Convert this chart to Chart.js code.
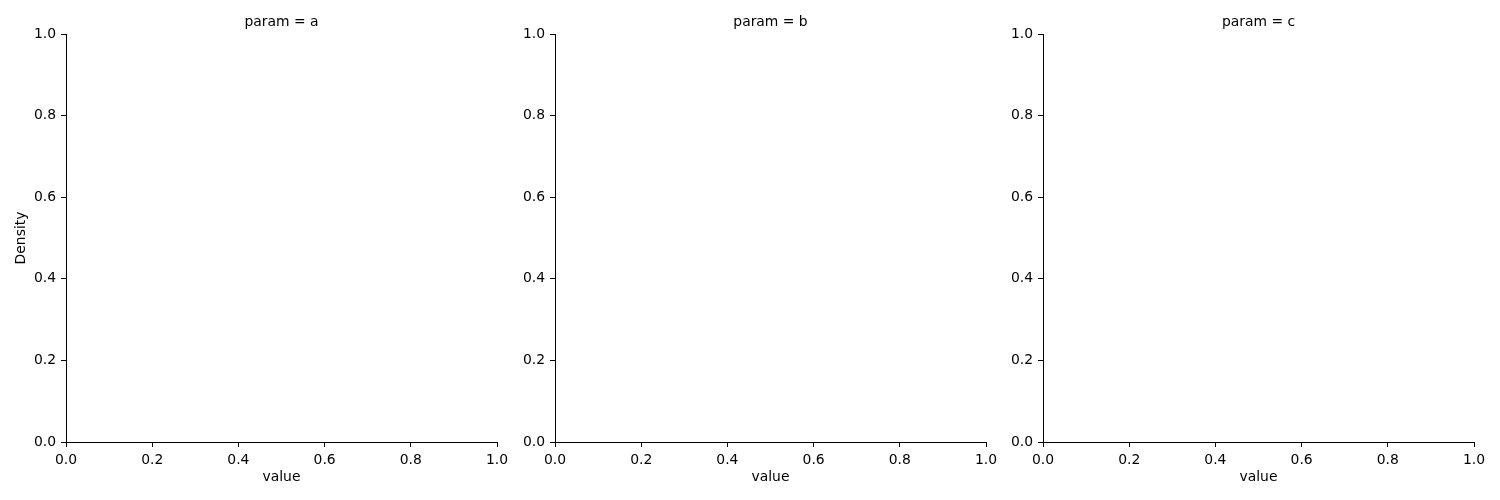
<!DOCTYPE html>
<html>
<head>
<meta charset="utf-8">
<script src="https://cdn.jsdelivr.net/npm/chart.js@4/dist/chart.umd.min.js"></script>
<style>
	html, body { margin: 0; padding: 0; background: #fff; }
	#wrap { position: relative; width: 1500px; height: 500px; }
	#wrap canvas { position: absolute; top: 0; }
</style>
</head>
<body>
<div id="wrap">
	<canvas id="panel0" width="520" height="500" style="left:0px"></canvas>
	<canvas id="panel1" width="520" height="500" style="left:489px"></canvas>
	<canvas id="panel2" width="520" height="500" style="left:977px"></canvas>
</div>
<script>
// facet categories and (empty) series values, one per facet
const params = ['a', 'b', 'c'];
const valuesA = [];
const valuesB = [];
const valuesC = [];
const xTicks = [0, 0.2, 0.4, 0.6, 0.8, 1.0];
const yTicks = [0, 0.2, 0.4, 0.6, 0.8, 1.0];

Chart.defaults.font.family = "'DejaVu Sans', sans-serif";
Chart.defaults.font.size = 13.9;
Chart.defaults.color = '#000';

// facet title centred over the plot area (the built-in title centres over the whole canvas)
const facetTitle = {
	id: 'facetTitle',
	afterDraw(chart, args, opts) {
		const { ctx, chartArea } = chart;
		ctx.save();
		ctx.font = "13.9px 'DejaVu Sans', sans-serif";
		ctx.fillStyle = '#000';
		ctx.textAlign = 'center';
		ctx.textBaseline = 'alphabetic';
		ctx.fillText(opts.text, (chartArea.left + chartArea.right) / 2, chartArea.top - 8.3);
		ctx.restore();
	}
};

function makePanel(canvasId, param, values, showYTitle) {
	new Chart(document.getElementById(canvasId).getContext('2d'), {
		type: 'scatter',
		data: {
			datasets: [{
				label: 'param = ' + param,
				data: values,
				borderColor: '#1f77b4',
				backgroundColor: '#1f77b4'
			}]
		},
		plugins: [facetTitle],
		options: {
			responsive: false,
			animation: false,
			devicePixelRatio: 1,
			layout: { padding: { left: 0, right: 23, top: 34, bottom: 0 } },
			plugins: {
				legend: { display: false },
				tooltip: { enabled: false },
				title: { display: false },
				facetTitle: { text: 'param = ' + param }
			},
			scales: {
				x: {
					type: 'linear',
					min: 0,
					max: 1,
					afterBuildTicks: s => { s.ticks = xTicks.map(v => ({ value: v })); },
					afterFit: s => { s.height = 58; },
					ticks: {
						padding: 5,
						maxRotation: 0,
						autoSkip: false,
						callback: v => v.toFixed(1)
					},
					grid: { drawOnChartArea: false, drawTicks: true, tickLength: 5, color: '#000', lineWidth: 1 },
					border: { display: true, color: '#000', width: 1 },
					title: { display: true, text: 'value', padding: { top: 4, bottom: 14.6 } }
				},
				y: {
					type: 'linear',
					min: 0,
					max: 1,
					afterBuildTicks: s => { s.ticks = yTicks.map(v => ({ value: v })); },
					afterFit: s => { s.width = 66; },
					ticks: {
						padding: 5,
						autoSkip: false,
						callback: v => v.toFixed(1)
					},
					grid: { drawOnChartArea: false, drawTicks: true, tickLength: 5, color: '#000', lineWidth: 1 },
					border: { display: true, color: '#000', width: 1 },
					title: { display: showYTitle, text: 'Density', padding: { top: 12.6, bottom: 0 } }
				}
			}
		}
	});
}

makePanel('panel0', params[0], valuesA, true);
makePanel('panel1', params[1], valuesB, false);
makePanel('panel2', params[2], valuesC, false);
</script>
</body>
</html>
